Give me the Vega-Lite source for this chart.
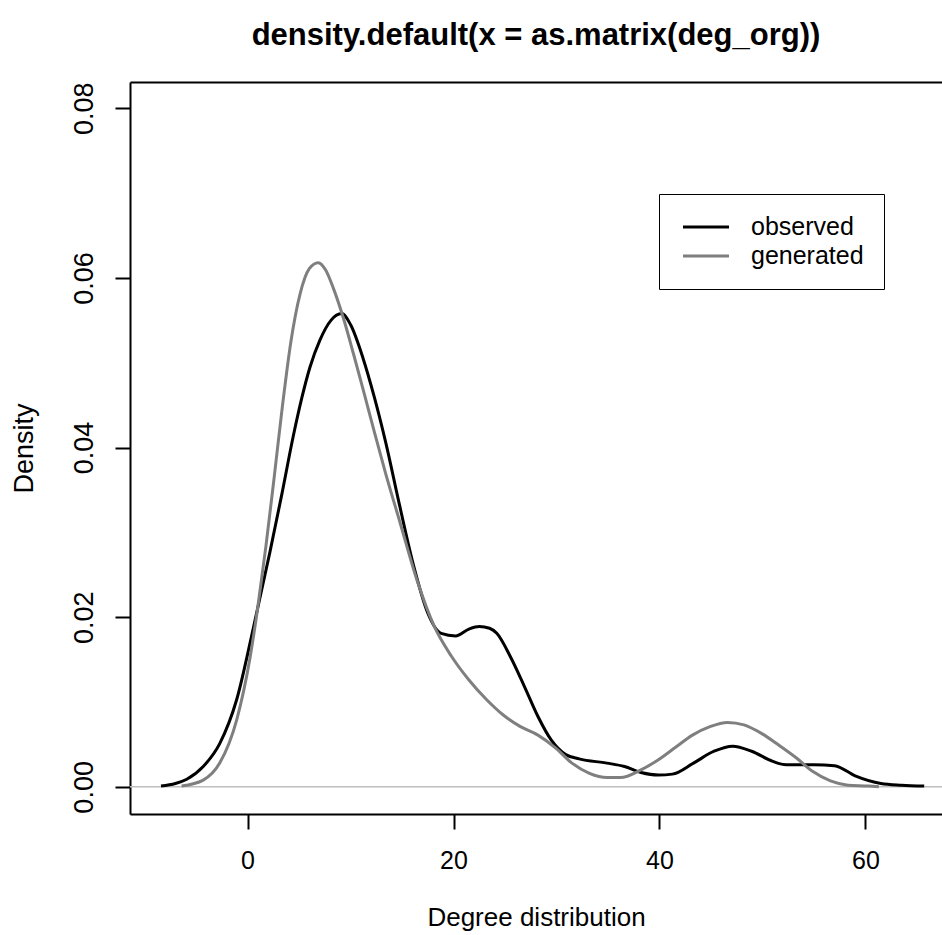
{
  "$schema": "https://vega.github.io/schema/vega-lite/v6.json",
  "width": 812,
  "height": 732,
  "autosize": {"type": "none"},
  "padding": {"left": 130, "top": 82, "right": 0, "bottom": 121},
  "background": "white",
  "title": {
    "text": "density.default(x = as.matrix(deg_org))",
    "anchor": "middle",
    "fontSize": 31,
    "fontWeight": "bold",
    "font": "Liberation Sans",
    "color": "black",
    "offset": 30
  },
  "datasets": {
    "curves": [
      {"series": "observed", "x": -8.4, "y": 0.0001},
      {"series": "observed", "x": -7.0, "y": 0.0004},
      {"series": "observed", "x": -5.9, "y": 0.0009},
      {"series": "observed", "x": -4.3, "y": 0.0024},
      {"series": "observed", "x": -2.7, "y": 0.0051},
      {"series": "observed", "x": -1.05, "y": 0.0103},
      {"series": "observed", "x": 0.56, "y": 0.0187},
      {"series": "observed", "x": 2.18, "y": 0.0277},
      {"series": "observed", "x": 3.3, "y": 0.0343},
      {"series": "observed", "x": 4.45, "y": 0.0414},
      {"series": "observed", "x": 5.26, "y": 0.0458},
      {"series": "observed", "x": 6.07, "y": 0.0495},
      {"series": "observed", "x": 7.04, "y": 0.0527},
      {"series": "observed", "x": 8.1, "y": 0.0550},
      {"series": "observed", "x": 9.15, "y": 0.0558},
      {"series": "observed", "x": 10.0, "y": 0.0545},
      {"series": "observed", "x": 11.2, "y": 0.0506},
      {"series": "observed", "x": 12.3, "y": 0.0460},
      {"series": "observed", "x": 13.4, "y": 0.0407},
      {"series": "observed", "x": 14.8, "y": 0.0330},
      {"series": "observed", "x": 16.1, "y": 0.0262},
      {"series": "observed", "x": 17.5, "y": 0.0205},
      {"series": "observed", "x": 18.8, "y": 0.0181},
      {"series": "observed", "x": 20.2, "y": 0.0178},
      {"series": "observed", "x": 21.5, "y": 0.0186},
      {"series": "observed", "x": 22.5, "y": 0.0189},
      {"series": "observed", "x": 23.5, "y": 0.0187},
      {"series": "observed", "x": 24.2, "y": 0.0181},
      {"series": "observed", "x": 25.5, "y": 0.0154},
      {"series": "observed", "x": 26.9, "y": 0.0118},
      {"series": "observed", "x": 28.2, "y": 0.0083},
      {"series": "observed", "x": 29.5, "y": 0.0055},
      {"series": "observed", "x": 30.9, "y": 0.0038},
      {"series": "observed", "x": 32.2, "y": 0.0033},
      {"series": "observed", "x": 34.9, "y": 0.0028},
      {"series": "observed", "x": 36.6, "y": 0.0024},
      {"series": "observed", "x": 38.2, "y": 0.0017},
      {"series": "observed", "x": 39.9, "y": 0.0014},
      {"series": "observed", "x": 41.25, "y": 0.0015},
      {"series": "observed", "x": 43.3, "y": 0.0028},
      {"series": "observed", "x": 45.3, "y": 0.0042},
      {"series": "observed", "x": 47.1, "y": 0.0048},
      {"series": "observed", "x": 48.95, "y": 0.0042},
      {"series": "observed", "x": 51.0, "y": 0.003},
      {"series": "observed", "x": 52.3, "y": 0.0026},
      {"series": "observed", "x": 55.0, "y": 0.0026},
      {"series": "observed", "x": 57.0, "y": 0.0025},
      {"series": "observed", "x": 59.0, "y": 0.0013},
      {"series": "observed", "x": 61.5, "y": 0.0004},
      {"series": "observed", "x": 63.5, "y": 0.0002},
      {"series": "observed", "x": 65.7, "y": 0.0001},
      {"series": "generated", "x": -6.4, "y": 0.0001},
      {"series": "generated", "x": -4.3, "y": 0.0008},
      {"series": "generated", "x": -2.7, "y": 0.0028},
      {"series": "generated", "x": -1.05, "y": 0.0079},
      {"series": "generated", "x": 0.24, "y": 0.0152},
      {"series": "generated", "x": 1.0, "y": 0.0212},
      {"series": "generated", "x": 1.8, "y": 0.0285},
      {"series": "generated", "x": 2.6, "y": 0.0366},
      {"series": "generated", "x": 3.4, "y": 0.0450},
      {"series": "generated", "x": 4.2, "y": 0.0524},
      {"series": "generated", "x": 5.1, "y": 0.0581},
      {"series": "generated", "x": 6.0, "y": 0.0611},
      {"series": "generated", "x": 6.87, "y": 0.0618},
      {"series": "generated", "x": 7.6, "y": 0.0609},
      {"series": "generated", "x": 8.33, "y": 0.0588},
      {"series": "generated", "x": 9.3, "y": 0.0553},
      {"series": "generated", "x": 10.3, "y": 0.0510},
      {"series": "generated", "x": 11.3, "y": 0.0465},
      {"series": "generated", "x": 12.3, "y": 0.0419},
      {"series": "generated", "x": 13.4, "y": 0.0370},
      {"series": "generated", "x": 14.8, "y": 0.0312},
      {"series": "generated", "x": 16.5, "y": 0.0242},
      {"series": "generated", "x": 18.1, "y": 0.0190},
      {"series": "generated", "x": 19.8, "y": 0.0154},
      {"series": "generated", "x": 21.5, "y": 0.0126},
      {"series": "generated", "x": 23.2, "y": 0.0103},
      {"series": "generated", "x": 24.8, "y": 0.0085},
      {"series": "generated", "x": 26.5, "y": 0.0071},
      {"series": "generated", "x": 28.2, "y": 0.0061},
      {"series": "generated", "x": 29.9, "y": 0.0046},
      {"series": "generated", "x": 31.5, "y": 0.0028},
      {"series": "generated", "x": 33.2, "y": 0.0016},
      {"series": "generated", "x": 34.9, "y": 0.0011},
      {"series": "generated", "x": 36.2, "y": 0.0011},
      {"series": "generated", "x": 38.2, "y": 0.002},
      {"series": "generated", "x": 39.9, "y": 0.0032},
      {"series": "generated", "x": 41.6, "y": 0.0047},
      {"series": "generated", "x": 43.2, "y": 0.0061},
      {"series": "generated", "x": 44.9, "y": 0.0071},
      {"series": "generated", "x": 46.6, "y": 0.0076},
      {"series": "generated", "x": 48.2, "y": 0.0073},
      {"series": "generated", "x": 49.9, "y": 0.0063},
      {"series": "generated", "x": 51.6, "y": 0.0049},
      {"series": "generated", "x": 53.3, "y": 0.0034},
      {"series": "generated", "x": 54.9, "y": 0.0018},
      {"series": "generated", "x": 56.6, "y": 0.0007},
      {"series": "generated", "x": 58.3, "y": 0.0002},
      {"series": "generated", "x": 60.3, "y": 0.0001},
      {"series": "generated", "x": 61.3, "y": 0.0}
    ],
    "zero": [
      {"from": -11.41, "to": 67.43, "level": 0}
    ]
  },
  "layer": [
    {
      "data": {"name": "zero"},
      "mark": {"type": "rule", "color": "#bebebe", "strokeWidth": 1.5},
      "encoding": {
        "x": {
          "field": "from",
          "type": "quantitative",
          "scale": {"domain": [-11.41, 67.43], "nice": false, "zero": false},
          "axis": {"orient": "top", "ticks": false, "labels": false, "title": null, "domain": true}
        },
        "x2": {"field": "to"},
        "y": {
          "field": "level",
          "type": "quantitative",
          "scale": {"domain": [-0.0032, 0.0831], "nice": false, "zero": false}
        }
      }
    },
    {
      "data": {"name": "curves"},
      "mark": {"type": "line", "strokeWidth": 3, "interpolate": "monotone"},
      "encoding": {
        "x": {
          "field": "x",
          "type": "quantitative",
          "scale": {"domain": [-11.41, 67.43], "nice": false, "zero": false},
          "axis": {
            "orient": "bottom",
            "values": [0, 20, 40, 60],
            "format": "d",
            "title": "Degree distribution",
            "labelFontSize": 25,
            "labelPadding": 19,
            "labelBaseline": "top",
            "titleFontSize": 26,
            "titlePadding": 31
          }
        },
        "y": {
          "field": "y",
          "type": "quantitative",
          "scale": {"domain": [-0.0032, 0.0831], "nice": false, "zero": false},
          "axis": {
            "orient": "left",
            "values": [0, 0.02, 0.04, 0.06, 0.08],
            "format": ".2f",
            "title": "Density",
            "labelAngle": -90,
            "labelAlign": "center",
            "labelBaseline": "bottom",
            "labelFontSize": 27,
            "labelPadding": 17,
            "titleFontSize": 27,
            "titlePadding": 32
          }
        },
        "color": {
          "field": "series",
          "type": "nominal",
          "scale": {"domain": ["observed", "generated"], "range": ["#000000", "#7f7f7f"]},
          "legend": {
            "title": null,
            "orient": "none",
            "legendX": 529,
            "legendY": 112,
            "strokeColor": "#000000",
            "padding": 20,
            "symbolType": "M-2,0H2",
            "symbolSize": 529,
            "symbolOffset": 14,
            "symbolStrokeWidth": 3,
            "labelFontSize": 25,
            "labelOffset": 32,
            "rowPadding": 3
          }
        }
      }
    }
  ],
  "resolve": {"axis": {"x": "independent"}},
  "config": {
    "font": "Liberation Sans",
    "view": {"stroke": null},
    "axis": {
      "grid": false,
      "domainColor": "#000000",
      "domainWidth": 2,
      "tickColor": "#000000",
      "tickWidth": 2,
      "tickSize": 15,
      "labelColor": "#000000",
      "titleColor": "#000000",
      "labelFont": "Liberation Sans",
      "titleFont": "Liberation Sans",
      "titleFontWeight": "normal"
    },
    "legend": {
      "labelFont": "Liberation Sans",
      "labelColor": "#000000"
    }
  }
}
